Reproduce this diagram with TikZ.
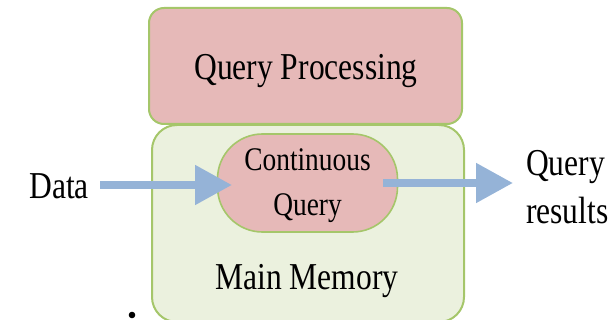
\documentclass[tikz,border=0pt]{standalone}
\usepackage{fontspec}
\setmainfont[FakeStretch=0.83]{Liberation Serif}
\usetikzlibrary{arrows.meta}
\definecolor{pinkfill}{HTML}{E6B9B8}
\definecolor{greenline}{HTML}{A5C66A}
\definecolor{memfill}{HTML}{EBF1DE}
\definecolor{arrowblue}{HTML}{95B3D7}
\tikzset{
  box/.style={draw=greenline, line width=2pt, fill=pinkfill, rounded corners=15pt},
  membox/.style={draw=greenline, line width=2pt, fill=memfill, rounded corners=25pt},
  cqbox/.style={draw=greenline, line width=1.6pt, fill=pinkfill, rounded corners=45pt, minimum width=180pt, minimum height=98pt, inner sep=0pt},
  lbl/.style={font=\fontsize{38}{48}\selectfont, inner sep=0pt},
  flow/.style={arrowblue, line width=8pt, -{Triangle[length=37pt, width=38pt]}},
}
\begin{document}
\begin{tikzpicture}[x=1pt, y=-1pt]
\useasboundingbox (0,0) rectangle (615,320);
\clip (0,0) rectangle (615,320);
% Main Memory
\draw[membox] (152,125) rectangle (464,322);
% Query Processing
\draw[box] (149,8) rectangle (462,124);
\node[lbl] (qp) at (306,71) {Query Processing};
\node[lbl] (mm) at (307,281) {Main Memory};
% Continuous Query
\node[cqbox] (cq) at (307.5,183) {};
\node[align=center, inner sep=0pt, font=\fontsize{33}{45}\selectfont] (cqt) at (307.5,186) {Continuous\\Query};
% Labels
\node[lbl, anchor=east] (data) at (89,186) {Data};
\node[lbl, anchor=west, align=left] (res) at (526,187) {Query\\results};
\coordinate (dstart) at (100,185);
\coordinate (dend) at (232,185);
\coordinate (rstart) at (383,183);
\coordinate (rend) at (513,183);
\draw[flow] (dstart) -- (dend);
\draw[flow] (rstart) -- (rend);
% stray dot
\fill (132,315) circle (3.3pt);
\end{tikzpicture}
\end{document}
